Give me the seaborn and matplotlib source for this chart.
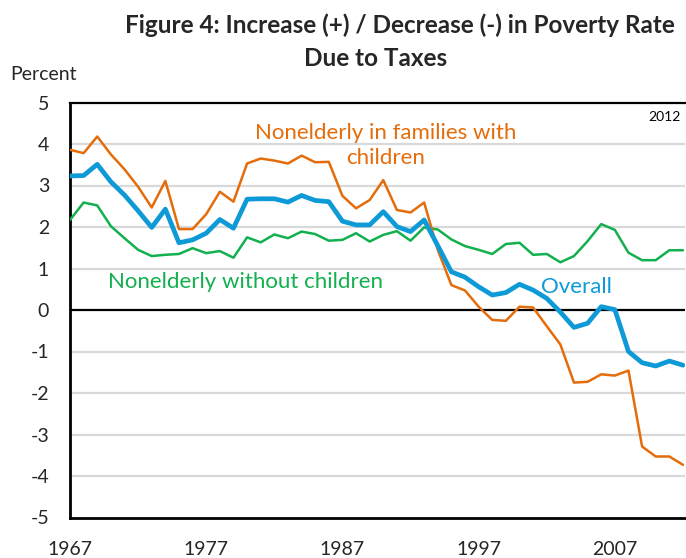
import numpy as np
import pandas as pd
import matplotlib
matplotlib.use("Agg")
import matplotlib.pyplot as plt
import seaborn as sns

# =========================
# Data
# =========================
years = list(range(1967, 2013))

with_children = [
    3.86, 3.78, 4.18, 3.75, 3.39, 2.97, 2.47, 3.11, 1.95, 1.95,
    2.31, 2.85, 2.61, 3.53, 3.65, 3.60, 3.53, 3.72, 3.56, 3.57,
    2.75, 2.45, 2.65, 3.13, 2.41, 2.35, 2.59, 1.45, 0.60, 0.47,
    0.08, -0.24, -0.26, 0.08, 0.06, -0.39, -0.83, -1.75, -1.73, -1.55,
    -1.58, -1.46, -3.29, -3.53, -3.53, -3.73,
]
overall = [
    3.23, 3.24, 3.51, 3.09, 2.77, 2.39, 1.99, 2.43, 1.62, 1.69,
    1.85, 2.18, 1.97, 2.67, 2.68, 2.68, 2.60, 2.76, 2.64, 2.61,
    2.14, 2.05, 2.05, 2.37, 2.01, 1.89, 2.17, 1.55, 0.92, 0.79,
    0.56, 0.36, 0.42, 0.62, 0.48, 0.28, -0.05, -0.42, -0.32, 0.08,
    0.01, -1.00, -1.27, -1.35, -1.23, -1.33,
]
without_children = [
    2.17, 2.59, 2.52, 2.02, 1.73, 1.45, 1.30, 1.33, 1.35, 1.49,
    1.37, 1.42, 1.26, 1.75, 1.63, 1.82, 1.73, 1.89, 1.83, 1.67,
    1.69, 1.85, 1.65, 1.81, 1.90, 1.67, 1.99, 1.94, 1.70, 1.54,
    1.45, 1.35, 1.59, 1.62, 1.33, 1.35, 1.15, 1.30, 1.66, 2.07,
    1.93, 1.38, 1.20, 1.20, 1.44, 1.44,
]

x_ticks = [1967, 1977, 1987, 1997, 2007]
y_ticks = list(range(-5, 6))

ORANGE = "#E46C0A"
BLUE = "#0E9AD7"
GREEN = "#12B04E"

df = pd.DataFrame({
    "year": years,
    "with": with_children,
    "overall": overall,
    "without": without_children,
})

# =========================
# Setup
# =========================
sns.set_theme(style="white")
plt.rcParams["font.family"] = ["Lato", "DejaVu Sans"]
plt.rcParams["axes.unicode_minus"] = False

fig = plt.figure(figsize=(6.86, 5.58), dpi=100)
ax = fig.add_axes([70 / 686, 1 - 517.5 / 558, 615 / 686, 415 / 558])

# gridlines
for v in y_ticks:
    if v not in (-5, 0, 5):
        ax.axhline(v, color="#D9D9D9", lw=1.6, zorder=0)
ax.axhline(0, color="black", lw=1.6, zorder=1)

sns.lineplot(data=df, x="year", y="without", color=GREEN, lw=1.8, ax=ax, zorder=3)
sns.lineplot(data=df, x="year", y="with", color=ORANGE, lw=1.8, ax=ax, zorder=4)
sns.lineplot(data=df, x="year", y="overall", color=BLUE, lw=3.4, ax=ax, zorder=5)

ax.set_xlim(1967, 2012.15)
ax.set_ylim(-5, 5)
ax.set_xticks(x_ticks)
ax.set_yticks(y_ticks)
ax.set_xlabel("")
ax.set_ylabel("")
ax.tick_params(axis="both", direction="in", length=6, width=1.4, color="black",
               labelsize=14)
ax.tick_params(axis="y", pad=15)
ax.tick_params(axis="x", pad=17)

for side in ["left", "bottom", "top"]:
    ax.spines[side].set_visible(True)
    ax.spines[side].set_color("black")
ax.spines["left"].set_linewidth(2.0)
ax.spines["bottom"].set_linewidth(2.0)
ax.spines["top"].set_linewidth(1.6)
ax.spines["right"].set_visible(False)

# =========================
# Annotations
# =========================
ax.text(1990.2, 3.96, "Nonelderly in families with\nchildren", color=ORANGE,
        fontsize=16, ha="center", va="center", linespacing=1.35)
ax.text(1979.9, 0.67, "Nonelderly without children", color=GREEN,
        fontsize=16, ha="center", va="center")
ax.text(2004.2, 0.55, "Overall", color=BLUE, fontsize=16, ha="center", va="center")
ax.text(2011.8, 4.65, "2012", color="black", fontsize=10, ha="right", va="center")

fig.text(400 / 686, 1 - 25 / 558, "Figure 4: Increase (+) / Decrease (-) in Poverty Rate",
         fontsize=17.5, fontweight="bold", ha="center", va="center")
fig.text(376 / 686, 1 - 58 / 558, "Due to Taxes",
         fontsize=17.5, fontweight="bold", ha="center", va="center")
fig.text(10 / 686, 1 - 75 / 558, "Percent", fontsize=14, ha="left", va="center")

fig.savefig("out.png", dpi=100)
plt.close(fig)
